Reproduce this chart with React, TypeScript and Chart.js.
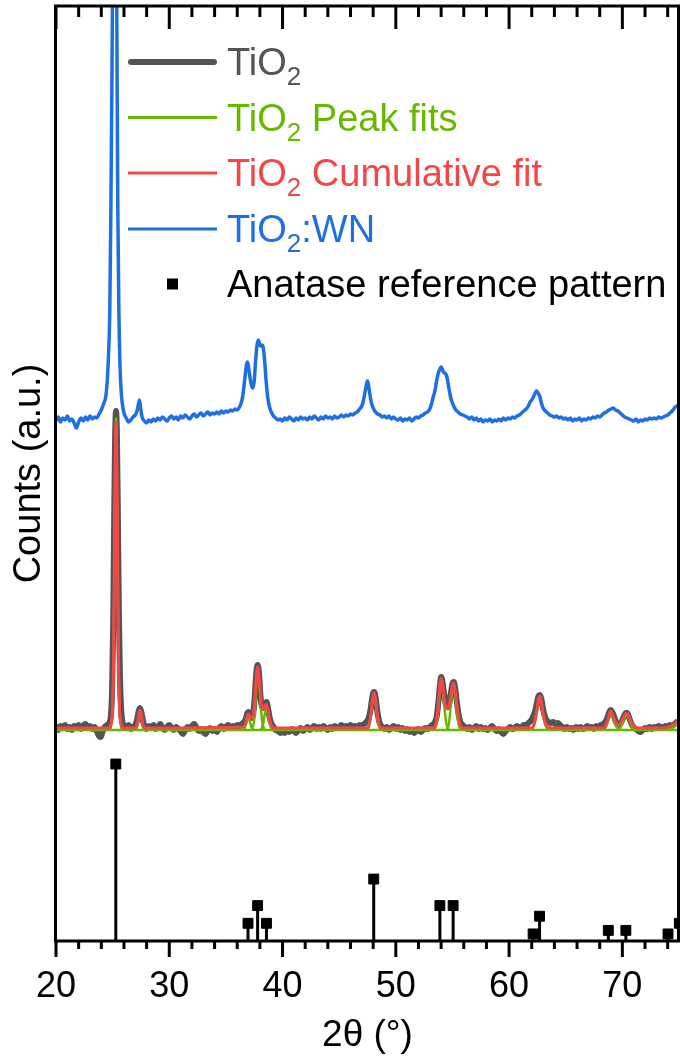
import React, { useEffect, useRef } from 'react';
import { Chart, registerables } from 'chart.js';

Chart.register(...registerables);

const FONT = '"Liberation Sans", Arial, Helvetica, sans-serif';

const GREY = '#545454';
const GREEN = '#69b800';
const RED = '#f44646';
const BLUE = '#1e6fe3';

const X_MIN = 20;
const X_MAX = 75;
const Y_MAX = 935;
const xTickValues = [20, 30, 40, 50, 60, 70];

// TiO2 measured pattern (2θ, counts)
const tio2Measured: [number, number][] = [
  [20.0, 214], [20.2, 211], [20.4, 215], [20.6, 213], [20.8, 216], [21.0, 212], [21.2, 214], [21.4, 211],
  [21.6, 215], [21.8, 213], [22.0, 216], [22.2, 212], [22.4, 215], [22.6, 217], [22.8, 213], [23.0, 215],
  [23.2, 212], [23.4, 214], [23.6, 210], [23.8, 205], [23.95, 204], [24.1, 209], [24.3, 214], [24.5, 216],
  [24.7, 218], [24.85, 226], [24.95, 250], [25.05, 320], [25.15, 440], [25.22, 505], [25.3, 530], [25.38, 505],
  [25.45, 440], [25.55, 330], [25.65, 262], [25.75, 232], [25.85, 220], [26.0, 215], [26.2, 213], [26.4, 216],
  [26.6, 212], [26.8, 214], [27.0, 216], [27.15, 221], [27.3, 230], [27.42, 233], [27.55, 228], [27.7, 219],
  [27.85, 214], [28.0, 212], [28.2, 215], [28.4, 213], [28.6, 216], [28.8, 212], [29.0, 214], [29.2, 217],
  [29.4, 213], [29.6, 211], [29.8, 214], [30.0, 216], [30.2, 213], [30.4, 211], [30.6, 214], [30.8, 212],
  [31.0, 210], [31.2, 207], [31.4, 211], [31.6, 214], [31.8, 212], [32.0, 215], [32.2, 217], [32.4, 213],
  [32.6, 210], [32.8, 212], [33.0, 209], [33.2, 207], [33.4, 211], [33.6, 213], [33.8, 210], [34.0, 212],
  [34.2, 209], [34.4, 213], [34.6, 215], [34.8, 212], [35.0, 214], [35.2, 216], [35.4, 213], [35.6, 215],
  [35.8, 214], [36.0, 216], [36.2, 215], [36.4, 217], [36.6, 219], [36.75, 222], [36.9, 228], [37.0, 229],
  [37.12, 226], [37.25, 223], [37.4, 226], [37.55, 245], [37.68, 268], [37.8, 276], [37.92, 268], [38.05, 245],
  [38.2, 234], [38.32, 233], [38.45, 236], [38.58, 239], [38.7, 234], [38.85, 224], [39.0, 218], [39.2, 214],
  [39.4, 211], [39.6, 210], [39.8, 208], [40.0, 210], [40.2, 208], [40.4, 211], [40.6, 209], [40.8, 212],
  [41.0, 210], [41.2, 208], [41.4, 211], [41.6, 213], [41.8, 210], [42.0, 212], [42.2, 214], [42.4, 211],
  [42.6, 213], [42.8, 215], [43.0, 212], [43.2, 214], [43.4, 212], [43.6, 215], [43.8, 213], [44.0, 211],
  [44.2, 214], [44.4, 212], [44.6, 215], [44.8, 213], [45.0, 214], [45.2, 216], [45.4, 213], [45.6, 215],
  [45.8, 214], [46.0, 216], [46.2, 214], [46.4, 215], [46.6, 213], [46.8, 216], [47.0, 215], [47.2, 217],
  [47.4, 219], [47.6, 223], [47.75, 230], [47.9, 242], [48.0, 248], [48.1, 249], [48.22, 243], [48.35, 231],
  [48.5, 221], [48.65, 216], [48.8, 214], [49.0, 212], [49.2, 214], [49.4, 211], [49.6, 213], [49.8, 215],
  [50.0, 212], [50.2, 214], [50.4, 211], [50.6, 213], [50.8, 210], [51.0, 212], [51.2, 209], [51.4, 211],
  [51.6, 208], [51.8, 210], [52.0, 212], [52.2, 209], [52.4, 211], [52.6, 213], [52.8, 212], [53.0, 214],
  [53.2, 216], [53.4, 218], [53.6, 224], [53.75, 238], [53.9, 256], [54.0, 264], [54.1, 261], [54.25, 248],
  [54.4, 238], [54.55, 234], [54.7, 236], [54.85, 247], [55.0, 257], [55.12, 259], [55.25, 252], [55.4, 238],
  [55.55, 226], [55.7, 219], [55.9, 216], [56.1, 214], [56.3, 212], [56.5, 214], [56.7, 211], [56.9, 213],
  [57.1, 215], [57.3, 212], [57.5, 214], [57.7, 212], [57.9, 213], [58.1, 211], [58.3, 213], [58.5, 215],
  [58.7, 212], [58.9, 210], [59.1, 212], [59.3, 209], [59.5, 207], [59.7, 210], [59.9, 212], [60.1, 214],
  [60.3, 212], [60.5, 213], [60.7, 215], [60.9, 213], [61.1, 214], [61.3, 216], [61.5, 215], [61.7, 218],
  [61.9, 220], [62.1, 224], [62.3, 230], [62.45, 238], [62.6, 245], [62.72, 246], [62.85, 242], [63.0, 232],
  [63.15, 225], [63.3, 221], [63.5, 219], [63.7, 218], [63.9, 219], [64.1, 217], [64.3, 218], [64.5, 216],
  [64.7, 214], [64.9, 212], [65.1, 214], [65.3, 212], [65.5, 213], [65.7, 211], [65.9, 214], [66.1, 212],
  [66.3, 214], [66.5, 212], [66.7, 213], [66.9, 215], [67.1, 213], [67.3, 214], [67.5, 212], [67.7, 215],
  [67.9, 214], [68.1, 216], [68.3, 217], [68.5, 219], [68.7, 224], [68.85, 229], [68.98, 231], [69.1, 229],
  [69.25, 225], [69.4, 220], [69.55, 217], [69.7, 216], [69.85, 218], [70.0, 221], [70.15, 225], [70.3, 228],
  [70.42, 228], [70.55, 225], [70.7, 220], [70.85, 216], [71.0, 214], [71.2, 212], [71.4, 210], [71.6, 209],
  [71.8, 211], [72.0, 213], [72.2, 212], [72.4, 214], [72.6, 212], [72.8, 214], [73.0, 213], [73.2, 215],
  [73.4, 214], [73.6, 213], [73.8, 215], [74.0, 214], [74.2, 216], [74.4, 215], [74.6, 217], [74.8, 219],
  [75.0, 220],
];

// TiO2:WN measured pattern (2θ, counts), offset above the TiO2 trace
const tio2WN: [number, number][] = [
  [20.0, 520], [20.2, 524], [20.4, 519], [20.6, 523], [20.8, 521], [21.0, 525], [21.2, 520], [21.4, 522],
  [21.6, 518], [21.8, 513], [22.0, 519], [22.2, 523], [22.4, 520], [22.6, 524], [22.8, 521], [23.0, 525],
  [23.2, 522], [23.4, 524], [23.6, 523], [23.8, 527], [24.0, 531], [24.2, 537], [24.4, 545], [24.55, 565],
  [24.65, 590], [24.75, 630], [24.85, 740], [24.95, 880], [25.05, 1050], [25.15, 1200], [25.22, 1220],
  [25.3, 1100], [25.38, 900], [25.45, 740], [25.55, 630], [25.65, 575], [25.75, 550], [25.85, 538],
  [26.0, 528], [26.2, 523], [26.4, 519], [26.6, 521], [26.8, 524], [27.0, 526], [27.15, 530], [27.3, 538],
  [27.38, 541], [27.48, 532], [27.6, 524], [27.8, 520], [28.0, 518], [28.2, 521], [28.4, 519], [28.6, 522],
  [28.8, 520], [29.0, 523], [29.2, 521], [29.4, 524], [29.6, 522], [29.8, 520], [30.0, 523], [30.2, 525],
  [30.4, 522], [30.6, 524], [30.8, 521], [31.0, 525], [31.2, 523], [31.4, 526], [31.6, 524], [31.8, 522],
  [32.0, 525], [32.2, 527], [32.4, 524], [32.6, 526], [32.8, 528], [33.0, 525], [33.2, 527], [33.4, 529],
  [33.6, 526], [33.8, 528], [34.0, 527], [34.2, 529], [34.4, 527], [34.6, 530], [34.8, 528], [35.0, 530],
  [35.2, 529], [35.4, 531], [35.6, 530], [35.8, 532], [36.0, 531], [36.2, 534], [36.35, 538], [36.5, 546],
  [36.65, 560], [36.8, 575], [36.9, 579], [37.0, 574], [37.12, 564], [37.25, 556], [37.38, 553], [37.5, 560],
  [37.62, 580], [37.75, 596], [37.85, 601], [37.95, 598], [38.05, 595], [38.2, 596], [38.3, 593], [38.42, 580],
  [38.55, 560], [38.7, 543], [38.85, 534], [39.0, 529], [39.2, 525], [39.4, 523], [39.6, 521], [39.8, 522],
  [40.0, 520], [40.2, 523], [40.4, 521], [40.6, 524], [40.8, 522], [41.0, 520], [41.2, 523], [41.4, 521],
  [41.6, 524], [41.8, 522], [42.0, 523], [42.2, 521], [42.4, 524], [42.6, 522], [42.8, 525], [43.0, 523],
  [43.2, 521], [43.4, 524], [43.6, 522], [43.8, 525], [44.0, 523], [44.2, 524], [44.4, 522], [44.6, 525],
  [44.8, 523], [45.0, 524], [45.2, 526], [45.4, 524], [45.6, 526], [45.8, 525], [46.0, 527], [46.2, 526],
  [46.4, 528], [46.6, 529], [46.8, 532], [47.0, 535], [47.15, 541], [47.3, 550], [47.4, 556], [47.5, 560],
  [47.6, 555], [47.72, 546], [47.85, 538], [48.0, 533], [48.2, 529], [48.4, 527], [48.6, 526], [48.8, 524],
  [49.0, 525], [49.2, 523], [49.4, 525], [49.6, 522], [49.8, 524], [50.0, 522], [50.2, 521], [50.4, 523],
  [50.6, 520], [50.8, 522], [51.0, 521], [51.2, 523], [51.4, 520], [51.6, 522], [51.8, 524], [52.0, 523],
  [52.2, 525], [52.4, 526], [52.6, 528], [52.8, 529], [53.0, 532], [53.15, 537], [53.3, 544], [53.45, 550],
  [53.6, 560], [53.75, 568], [53.9, 572], [54.0, 574], [54.1, 572], [54.2, 569], [54.32, 568], [54.45, 566],
  [54.55, 562], [54.7, 552], [54.85, 543], [55.0, 538], [55.15, 534], [55.3, 531], [55.5, 529], [55.7, 527],
  [55.9, 526], [56.1, 525], [56.3, 524], [56.5, 522], [56.7, 524], [56.9, 521], [57.1, 523], [57.3, 520],
  [57.5, 522], [57.7, 519], [57.9, 521], [58.1, 520], [58.3, 522], [58.5, 519], [58.7, 521], [58.9, 520],
  [59.1, 522], [59.3, 520], [59.5, 523], [59.7, 521], [59.9, 523], [60.1, 522], [60.3, 524], [60.5, 523],
  [60.7, 525], [60.9, 526], [61.1, 528], [61.3, 530], [61.5, 532], [61.7, 535], [61.85, 539], [62.0, 541],
  [62.15, 544], [62.3, 548], [62.42, 550], [62.55, 548], [62.7, 545], [62.85, 538], [63.0, 533], [63.2, 530],
  [63.4, 528], [63.6, 526], [63.8, 525], [64.0, 524], [64.2, 525], [64.4, 523], [64.6, 524], [64.8, 522],
  [65.0, 523], [65.2, 521], [65.4, 523], [65.6, 520], [65.8, 522], [66.0, 521], [66.2, 523], [66.4, 520],
  [66.6, 522], [66.8, 521], [67.0, 523], [67.2, 522], [67.4, 524], [67.6, 523], [67.8, 525], [68.0, 524],
  [68.2, 526], [68.4, 528], [68.6, 529], [68.8, 531], [69.0, 532], [69.2, 533], [69.4, 531], [69.6, 530],
  [69.8, 528], [70.0, 526], [70.2, 524], [70.4, 523], [70.6, 522], [70.8, 521], [71.0, 520], [71.2, 522],
  [71.4, 519], [71.6, 521], [71.8, 520], [72.0, 522], [72.2, 521], [72.4, 523], [72.6, 522], [72.8, 523],
  [73.0, 522], [73.2, 524], [73.4, 523], [73.6, 524], [73.8, 525], [74.0, 526], [74.2, 528], [74.4, 530],
  [74.6, 533], [74.8, 535], [75.0, 534],
];

// Cumulative fit of the TiO2 pattern
const cumulativeFit: [number, number][] = [
  [20, 213], [24.7, 213], [24.8, 215], [24.9, 220], [25.0, 236], [25.1, 300], [25.2, 440], [25.3, 519],
  [25.4, 440], [25.5, 300], [25.6, 236], [25.7, 220], [25.8, 215], [25.9, 213],
  [27.0, 213], [27.2, 218], [27.3, 226], [27.42, 231], [27.55, 226], [27.65, 218], [27.85, 213],
  [36.5, 214], [36.7, 217], [36.85, 223], [36.98, 227], [37.12, 224], [37.3, 223], [37.45, 228], [37.6, 250],
  [37.72, 270], [37.82, 274], [37.95, 262], [38.1, 240], [38.25, 232], [38.4, 234], [38.55, 237], [38.7, 232],
  [38.85, 222], [39.05, 215], [39.3, 213],
  [47.5, 213], [47.7, 220], [47.85, 232], [47.95, 243], [48.08, 248], [48.2, 243], [48.3, 232], [48.45, 220],
  [48.65, 213],
  [53.4, 213], [53.6, 220], [53.75, 235], [53.88, 255], [54.0, 263], [54.12, 257], [54.3, 240], [54.5, 232],
  [54.65, 233], [54.85, 245], [55.0, 256], [55.1, 258], [55.22, 252], [55.4, 235], [55.6, 220], [55.85, 213],
  [62.0, 213], [62.25, 219], [62.45, 231], [62.6, 242], [62.73, 245], [62.85, 240], [63.0, 228], [63.2, 218],
  [63.45, 214], [63.8, 213],
  [68.4, 213], [68.65, 219], [68.85, 227], [68.98, 230], [69.15, 226], [69.4, 219], [69.65, 216], [69.9, 219],
  [70.15, 225], [70.39, 228], [70.55, 225], [70.8, 218], [71.1, 214], [71.5, 213],
  [73.6, 213], [74.0, 214], [74.4, 216], [74.7, 218], [75.0, 222],
];

// Individual peak fits
const peakFitBaseline: [number, number][] = [[20, 211], [75, 211]];
const peakFits: [number, number][][] = [
  [[24.8, 212], [24.9, 218], [25.0, 234], [25.1, 300], [25.2, 442], [25.3, 523], [25.4, 442], [25.5, 300], [25.6, 234], [25.7, 218], [25.8, 212], [25.9, 211]],
  [[27.0, 211], [27.2, 216], [27.3, 224], [27.42, 229], [27.55, 224], [27.65, 216], [27.85, 211]],
  [[36.5, 211], [36.7, 214], [36.85, 220], [36.98, 224], [37.1, 220], [37.25, 214], [37.45, 211]],
  [[37.3, 211], [37.5, 222], [37.62, 245], [37.72, 265], [37.82, 271], [37.92, 262], [38.05, 240], [38.2, 220], [38.4, 211]],
  [[38.1, 211], [38.3, 218], [38.45, 228], [38.58, 233], [38.7, 228], [38.85, 218], [39.05, 211]],
  [[47.5, 211], [47.7, 218], [47.85, 230], [47.95, 241], [48.08, 246], [48.2, 241], [48.3, 230], [48.45, 218], [48.65, 211]],
  [[53.4, 211], [53.6, 218], [53.75, 232], [53.88, 252], [54.0, 260], [54.12, 252], [54.3, 232], [54.45, 218], [54.65, 211]],
  [[54.5, 211], [54.7, 218], [54.85, 236], [55.0, 252], [55.1, 255], [55.22, 248], [55.4, 228], [55.6, 214], [55.8, 211]],
  [[62.0, 211], [62.25, 217], [62.45, 229], [62.6, 240], [62.73, 243], [62.85, 238], [63.0, 226], [63.2, 216], [63.45, 211]],
  [[68.4, 211], [68.65, 217], [68.85, 225], [68.98, 228], [69.15, 224], [69.4, 216], [69.7, 211]],
  [[69.7, 211], [69.95, 216], [70.2, 223], [70.39, 226], [70.55, 223], [70.8, 215], [71.1, 211]],
  [[74.0, 211], [74.4, 213], [74.7, 216], [75.0, 220]],
];

// Anatase reference pattern: 2θ positions and relative intensities (%)
const anataseAngles = [25.28, 36.95, 37.8, 38.58, 48.05, 53.89, 55.06, 62.12, 62.69, 68.76, 70.31, 74.03, 75.03];
const anataseIntensity = [100, 10, 20, 10, 35, 20, 20, 4, 14, 6, 6, 4, 10];
const ANATASE_SCALE = 1.77; // counts per % relative intensity

type LegendEntry = { main: string; sub: string; rest: string; color: string; lineWidth: number; marker: boolean };
const legendEntries: LegendEntry[] = [
  { main: 'TiO', sub: '2', rest: '', color: GREY, lineWidth: 6, marker: false },
  { main: 'TiO', sub: '2', rest: ' Peak fits', color: GREEN, lineWidth: 3, marker: false },
  { main: 'TiO', sub: '2', rest: ' Cumulative fit', color: RED, lineWidth: 3, marker: false },
  { main: 'TiO', sub: '2', rest: ':WN', color: BLUE, lineWidth: 3, marker: false },
  { main: 'Anatase reference pattern', sub: '', rest: '', color: '#000000', lineWidth: 0, marker: true },
];
const legendRowY = [62, 117.5, 173, 229, 284];

const toXY = (pts: [number, number][]) => pts.map(([x, y]) => ({ x, y }));

const frameAndLegend = {
  id: 'frameAndLegend',
  afterDraw(chart: any) {
    const { ctx, chartArea: a, scales } = chart;
    const xs = scales.x;
    ctx.save();
    ctx.strokeStyle = '#000';
    ctx.lineWidth = 3;
    ctx.lineCap = 'butt';
    // minor ticks every 2°, major every 10°; outward on the bottom, inward on the top
    for (let v = X_MIN; v < X_MAX; v += 2) {
      const px = xs.getPixelForValue(v);
      const major = v % 10 === 0;
      ctx.beginPath();
      ctx.moveTo(px, a.bottom);
      ctx.lineTo(px, a.bottom + (major ? 16 : 8));
      ctx.moveTo(px, a.top);
      ctx.lineTo(px, a.top + (major ? 23 : 11));
      ctx.stroke();
    }
    ctx.beginPath();
    ctx.rect(a.left - 0.5, a.top, a.right - a.left, a.bottom - a.top);
    ctx.stroke();

    // legend
    legendEntries.forEach((e, i) => {
      const y = legendRowY[i];
      if (e.marker) {
        ctx.fillStyle = e.color;
        ctx.fillRect(167, y - 5.5, 11, 11);
      } else {
        ctx.strokeStyle = e.color;
        ctx.lineWidth = e.lineWidth;
        ctx.lineCap = e.lineWidth > 4 ? 'round' : 'butt';
        const inset = e.lineWidth > 4 ? e.lineWidth / 2 : 0;
        ctx.beginPath();
        ctx.moveTo(128 + inset, y);
        ctx.lineTo(217 - inset, y);
        ctx.stroke();
      }
      ctx.fillStyle = e.color;
      ctx.textBaseline = 'alphabetic';
      ctx.textAlign = 'left';
      let tx = 227;
      const base = y + 13;
      ctx.font = `38px ${FONT}`;
      ctx.fillText(e.main, tx, base);
      tx += ctx.measureText(e.main).width;
      if (e.sub) {
        ctx.font = `26px ${FONT}`;
        ctx.fillText(e.sub, tx, base + 10);
        tx += ctx.measureText(e.sub).width;
        ctx.font = `38px ${FONT}`;
      }
      if (e.rest) ctx.fillText(e.rest, tx, base);
    });
    ctx.restore();
  },
};

export default function App() {
  const canvasRef = useRef<HTMLCanvasElement | null>(null);

  useEffect(() => {
    document.body.style.margin = '0';
    const canvas = canvasRef.current;
    if (!canvas) return;

    const lineBase = {
      pointRadius: 0,
      pointHoverRadius: 0,
      fill: false,
      cubicInterpolationMode: 'monotone' as const,
      borderJoinStyle: 'round' as const,
    };

    // Each stick: baseline point, top point (marker), gap. Listed from high to low angle
    // so the stick just past the axis end is still drawn (clipped at the frame).
    const referenceData = anataseAngles
      .map((a, i) => [
        { x: a, y: 0 },
        { x: a, y: anataseIntensity[i] * ANATASE_SCALE },
        { x: a, y: null },
      ])
      .reverse()
      .flat();

    const datasets: any[] = [
      { ...lineBase, label: 'TiO2 Cumulative fit', data: toXY(cumulativeFit), borderColor: RED, borderWidth: 3, order: 0 },
      { ...lineBase, label: 'TiO2 Peak fits', data: toXY(peakFitBaseline), borderColor: GREEN, borderWidth: 2.5, order: 2 },
      ...peakFits.map((p, i) => ({
        ...lineBase, label: `TiO2 Peak fit ${i + 1}`, data: toXY(p), borderColor: GREEN, borderWidth: 2.5, order: 1,
      })),
      { ...lineBase, label: 'TiO2', data: toXY(tio2Measured), borderColor: GREY, borderWidth: 6, borderCapStyle: 'round', order: 3 },
      { ...lineBase, label: 'TiO2:WN', data: toXY(tio2WN), borderColor: BLUE, borderWidth: 3.5, order: 4 },
      {
        label: 'Anatase reference pattern',
        data: referenceData,
        borderColor: '#000',
        borderWidth: 3,
        tension: 0,
        spanGaps: false,
        fill: false,
        pointStyle: 'rect',
        pointRadius: (ctx: any) => (ctx.dataIndex % 3 === 1 ? 7 : 0),
        pointHoverRadius: 0,
        pointBackgroundColor: '#000',
        pointBorderColor: '#000',
        pointBorderWidth: 1,
        order: 5,
      },
    ];

    const chart = new Chart(canvas, {
      type: 'line',
      data: { datasets },
      options: {
        animation: false,
        responsive: false,
        devicePixelRatio: 1,
        events: [],
        layout: { padding: { top: 6, right: 1, left: 0, bottom: 0 } },
        plugins: { legend: { display: false }, tooltip: { enabled: false }, title: { display: false } },
        scales: {
          x: {
            type: 'linear',
            min: X_MIN,
            max: X_MAX,
            grid: { display: false, drawTicks: false },
            border: { display: false },
            afterBuildTicks: (scale: any) => {
              scale.ticks = xTickValues.map((v) => ({ value: v }));
            },
            afterFit: (scale: any) => {
              scale.height = 121;
            },
            ticks: {
              padding: 24,
              color: '#000',
              maxRotation: 0,
              font: { family: FONT, size: 36 },
            },
            title: {
              display: true,
              text: '2θ (°)',
              color: '#000',
              font: { family: FONT, size: 37 },
              padding: { top: 0, bottom: 4 },
            },
          },
          y: {
            type: 'linear',
            min: 0,
            max: Y_MAX,
            grid: { display: false, drawTicks: false },
            border: { display: false },
            ticks: { display: false },
            afterFit: (scale: any) => {
              scale.width = 56;
            },
            title: {
              display: true,
              text: 'Counts (a.u.)',
              color: '#000',
              font: { family: FONT, size: 38 },
              padding: { top: 7, bottom: 0 },
            },
          },
        },
      },
      plugins: [frameAndLegend],
    });

    return () => chart.destroy();
  }, []);

  return (
    <div style={{ position: 'absolute', left: 0, top: 0, width: 680, height: 1062, background: '#fff' }}>
      <canvas ref={canvasRef} width={680} height={1062} style={{ display: 'block', width: 680, height: 1062 }} />
    </div>
  );
}
